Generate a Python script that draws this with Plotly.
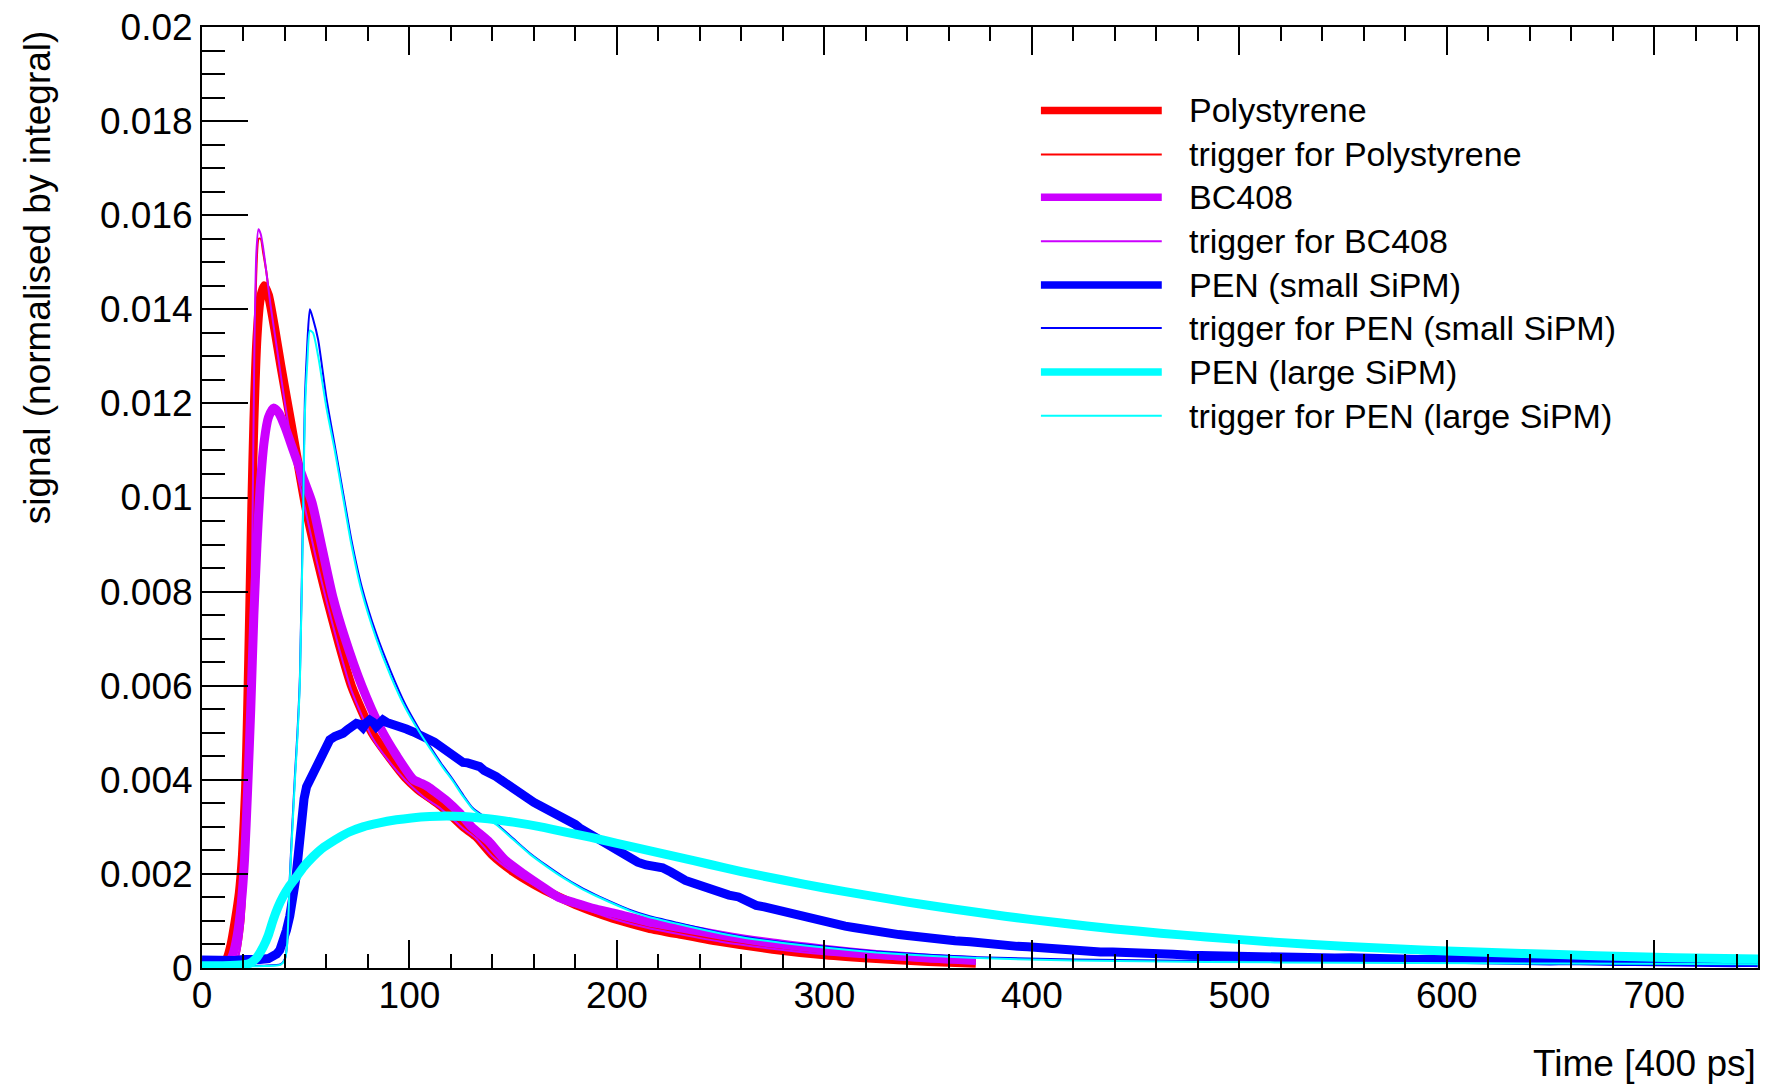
import plotly.graph_objects as go

# ---- pulse shapes, time in 400 ps bins, amplitude normalised by integral ----

ps_t = [0, 5, 9, 12, 14, 16, 18, 19.5, 21, 22, 23, 24, 25, 26.5, 28, 30, 32, 35, 38, 42, 46, 50, 55,
        60, 66, 72, 82, 90, 98, 104, 107, 111, 115, 120, 126, 132, 140, 150, 160, 170, 180, 190, 200,
        215, 230, 250, 275, 300, 325, 350, 373]
ps_y = [0.00002, 0.00002, 0.00005, 0.0002, 0.0005, 0.001, 0.0016, 0.0024, 0.0038, 0.0055, 0.0076,
        0.0098, 0.0116, 0.0134, 0.0142, 0.0145, 0.0143, 0.0136, 0.0128, 0.0118, 0.0108, 0.0098, 0.0088,
        0.0079, 0.0069, 0.006, 0.005, 0.0045, 0.00405, 0.0038, 0.0037, 0.00358, 0.00345, 0.00325, 0.003,
        0.0028, 0.0024, 0.00205, 0.00178, 0.00155, 0.00135, 0.00118, 0.00103, 0.00085, 0.00072, 0.00056,
        0.0004, 0.00028, 0.0002, 0.00014, 0.0001]

trg_ps_t = [0, 12, 17, 20, 21.5, 23, 24.2, 25.2, 26.2, 27.3, 28.3, 29.5, 31, 33, 36, 40, 45, 50, 55,
            60, 66, 72, 82, 90, 98, 104, 107, 111, 115, 120, 126, 132, 140, 150, 160, 170, 180, 190,
            200, 215, 230, 250, 275, 300, 325, 350, 373]
trg_ps_y = [0.0, 0.00002, 0.0002, 0.001, 0.0025, 0.005, 0.0085, 0.0125, 0.0148, 0.0155, 0.0155,
            0.0152, 0.0148, 0.0141, 0.0132, 0.012, 0.0107, 0.0097, 0.0087, 0.0078, 0.0068, 0.0059,
            0.0049, 0.0044, 0.00398, 0.00373, 0.00362, 0.0035, 0.00338, 0.00319, 0.00295, 0.00275,
            0.00236, 0.00202, 0.00175, 0.00152, 0.00133, 0.00116, 0.00101, 0.00084, 0.00071, 0.00055,
            0.0004, 0.00028, 0.0002, 0.00014, 0.0001]

bc_t = [0, 8, 11, 13, 15, 17, 19, 20.5, 22, 23.5, 25, 26.5, 28, 30, 32, 34.5, 37, 40, 44, 48, 53, 58,
        63, 69, 77, 86, 94, 102, 106, 109, 113, 118, 124, 130, 138, 146, 155, 165, 172, 180, 190, 200,
        215, 230, 250, 275, 300, 325, 350, 373]
bc_y = [0.00002, 0.00002, 0.00005, 0.00012, 0.0003, 0.0007, 0.0014, 0.0023, 0.0038, 0.0055, 0.0075,
        0.009, 0.0102, 0.0112, 0.0117, 0.0119, 0.0118, 0.0115, 0.011, 0.0105, 0.0099, 0.0089, 0.0079,
        0.007, 0.006, 0.0051, 0.0045, 0.004, 0.00392, 0.00385, 0.00372, 0.00355, 0.0033, 0.003, 0.0027,
        0.0023, 0.002, 0.0017, 0.0015, 0.00138, 0.00125, 0.00115, 0.00098, 0.00086, 0.0007, 0.00053,
        0.0004, 0.00029, 0.00021, 0.00016]

trg_bc_t = [0, 12, 17, 20, 21.5, 23, 24.2, 25.2, 26.2, 27.2, 28.3, 29.5, 31, 33, 36, 40, 45, 50, 55,
            60, 66, 72, 82, 90, 98, 104, 107, 111, 115, 120, 126, 132, 140, 150, 160, 170, 180, 190,
            200, 215, 230, 250, 275, 300, 325, 350, 373]
trg_bc_y = [0.0, 0.00002, 0.0002, 0.001, 0.0026, 0.0052, 0.0088, 0.013, 0.0152, 0.0157, 0.0156,
            0.0153, 0.0148, 0.0141, 0.0132, 0.012, 0.0107, 0.0097, 0.0087, 0.0078, 0.0068, 0.0059,
            0.0049, 0.0044, 0.00399, 0.00374, 0.00363, 0.00351, 0.00339, 0.0032, 0.00296, 0.00276,
            0.00237, 0.00203, 0.00176, 0.00153, 0.00134, 0.00117, 0.00102, 0.00085, 0.00072, 0.00056,
            0.00041, 0.00029, 0.00021, 0.00015, 0.00011]

pen_s_t = [0, 4, 8, 12, 16, 20, 24, 28, 32, 34.3, 36, 37.5, 39, 40.7, 42.3, 43.9, 45.2, 46.4, 47.3, 48,
           49.2, 50.4, 52, 53.5, 55.2, 57, 59, 61.6, 64, 66, 68, 70, 72, 74.4, 76, 77.6, 79, 80.8, 82.5,
           84, 85.6, 87.2, 89, 91, 93.7, 96, 98.5, 101.7, 104, 106, 109.7, 112, 115, 117.8, 120, 122.5,
           125.8, 128, 131, 133.8, 136, 139, 141.8, 144, 147, 149.8, 152, 155, 157.8, 160, 163, 165.9,
           168, 171, 173.9, 177, 180, 181.9, 185, 188, 190, 193, 196, 198, 201, 204, 206, 210, 214, 218,
           222, 226, 229.2, 233, 237, 241.4, 245, 250, 254, 258.6, 263, 267.1, 271, 275.8, 280, 284.4,
           288, 292.9, 297, 301.5, 306, 310, 314, 318.7, 323, 327, 331, 335.9, 340, 345, 349, 353.1,
           358, 363, 370.3, 375, 380, 387.4, 393, 398, 404.7, 410, 416, 421.8, 427, 433, 439, 445, 450,
           456, 462, 468, 476, 483.6, 490, 498, 506, 514, 522, 530, 538, 546, 554, 562, 570, 578, 586,
           594, 602, 610, 618, 626, 634, 642, 650, 658, 666, 674, 682, 690, 698, 706, 714, 722, 730,
           738, 746, 750]
pen_s_y = [0.00017, 0.00016, 0.00018, 0.00017, 0.00016, 0.00018, 0.00017, 0.00018, 0.0002, 0.00024,
           0.0003, 0.00038, 0.00055, 0.0008, 0.0011, 0.0015, 0.0019, 0.0024, 0.0029, 0.0033, 0.0036,
           0.00385, 0.004, 0.00415, 0.00428, 0.0045, 0.00468, 0.00485, 0.00492, 0.00494, 0.00499,
           0.00506, 0.00512, 0.0052, 0.00518, 0.00511, 0.0052, 0.00527, 0.00522, 0.00513, 0.0052,
           0.00527, 0.00522, 0.0052, 0.00516, 0.00514, 0.00508, 0.00502, 0.00496, 0.0049, 0.00485,
           0.0048, 0.0047, 0.00462, 0.00455, 0.00446, 0.00437, 0.00436, 0.00432, 0.00428, 0.0042,
           0.00415, 0.00407, 0.004, 0.0039, 0.00384, 0.00376, 0.00366, 0.00357, 0.00352, 0.00345,
           0.00339, 0.00334, 0.00328, 0.00321, 0.00312, 0.00305, 0.00298, 0.0029, 0.0028, 0.00275,
           0.00266, 0.00262, 0.00256, 0.00248, 0.0024, 0.00234, 0.00225, 0.00219, 0.00216, 0.00213,
           0.00204, 0.00195, 0.00186, 0.0018, 0.00173, 0.00166, 0.00158, 0.00155, 0.00151, 0.0014,
           0.00133, 0.0013, 0.00125, 0.00118, 0.00114, 0.00109, 0.00103, 0.00101, 0.00096, 0.00092,
           0.00089, 0.00086, 0.00082, 0.0008, 0.00076, 0.00074, 0.00071, 0.00069, 0.00066, 0.00064,
           0.00063, 0.00061, 0.00058, 0.00056, 0.00053, 0.00051, 0.00049, 0.00046, 0.00045, 0.00042,
           0.0004, 0.00037, 0.00035, 0.00036, 0.00034, 0.00034, 0.00032, 0.00033, 0.00031, 0.0003,
           0.00029, 0.00027, 0.00026, 0.00027, 0.00025, 0.00026, 0.00024, 0.00023, 0.00024, 0.00022,
           0.00021, 0.00022, 0.0002, 0.00019, 0.0002, 0.00018, 0.00019, 0.00018, 0.00019, 0.00017,
           0.00017, 0.00016, 0.00016, 0.00015, 0.00016, 0.00014, 0.00015, 0.00014, 0.00014, 0.00013,
           0.00014, 0.00012, 0.00013, 0.00012, 0.00011, 0.00012, 0.00011, 0.0001, 0.00011, 0.0001]

trg_s_t = [0, 30, 38, 40, 41, 42.3, 43.5, 44.8, 46, 47.2, 48.8, 49.6, 50.8, 52, 53.5, 56, 60, 64, 68,
           72, 77, 84, 91, 98, 105, 110, 116, 121, 125.5, 130.5, 136, 142, 150, 158, 166, 174, 182,
           190, 198, 206, 215, 229, 245, 262, 280, 301, 325, 350, 374, 420, 484, 550, 620, 690, 750]
trg_s_y = [0.00005, 0.00005, 0.00008, 0.0002, 0.0005, 0.0019, 0.003, 0.0041, 0.005, 0.0062, 0.01,
           0.0121, 0.0133, 0.014, 0.0138, 0.01335, 0.0121, 0.0111, 0.0101, 0.0091, 0.0081, 0.0071,
           0.0063, 0.0056, 0.00505, 0.0047, 0.0043, 0.004, 0.0037, 0.0034, 0.00322, 0.00306, 0.00275,
           0.00244, 0.00218, 0.00194, 0.00173, 0.00155, 0.00139, 0.00124, 0.00111, 0.00096, 0.0008,
           0.00066, 0.00055, 0.00045, 0.00035, 0.00028, 0.00023, 0.00018, 0.00015, 0.00013, 0.00011,
           0.0001, 0.00009]

trg_l_t = trg_s_t
trg_l_y = [0.00004, 0.00004, 0.00007, 0.00019, 0.00048, 0.00185, 0.0029, 0.004, 0.0049, 0.0061,
           0.0098, 0.0118, 0.0129, 0.01355, 0.0135, 0.013, 0.0119, 0.011, 0.01, 0.009, 0.008, 0.007,
           0.0062, 0.00553, 0.005, 0.00466, 0.00427, 0.00397, 0.00367, 0.00338, 0.0032, 0.00304,
           0.00273, 0.00242, 0.00216, 0.00192, 0.00171, 0.00153, 0.00137, 0.00122, 0.00109, 0.00094,
           0.00078, 0.00064, 0.00053, 0.00043, 0.00033, 0.00026, 0.00021, 0.00016, 0.00013, 0.00011,
           0.0001, 0.00009, 0.00008]

pen_l_t = [0, 10, 20, 23, 26, 29.5, 32, 34.3, 36.5, 39.1, 42, 45.6, 49, 53.6, 57, 61.6, 66, 71, 77.6,
           85, 93.7, 101, 109.7, 118, 125.8, 134, 141.8, 150, 162, 174, 187, 200, 215, 230, 245, 260,
           280, 300, 320, 340, 363, 387, 413, 440, 462, 484, 517, 550, 575, 600, 636, 672, 710, 750]
pen_l_y = [0.00005, 0.00005, 0.00007, 0.0001, 0.0002, 0.00045, 0.0007, 0.00102, 0.00128, 0.00152,
           0.00173, 0.00194, 0.00215, 0.00237, 0.00251, 0.00265, 0.00277, 0.00289, 0.003, 0.00308,
           0.00315, 0.00319, 0.00322, 0.00323, 0.00322, 0.00319, 0.00315, 0.0031, 0.00301, 0.0029,
           0.00278, 0.00265, 0.0025, 0.00235, 0.0022, 0.00205, 0.00187, 0.0017, 0.00155, 0.0014,
           0.00125, 0.0011, 0.00096, 0.00083, 0.00074, 0.00066, 0.00055, 0.00046, 0.00041, 0.00036,
           0.00031, 0.00026, 0.00022, 0.00019]

series_names = ["Polystyrene", "trigger for Polystyrene", "BC408", "trigger for BC408",
                "PEN (small SiPM)", "trigger for PEN (small SiPM)", "PEN (large SiPM)",
                "trigger for PEN (large SiPM)"]
series_colors = ["#ff0000", "#ff0000", "#cc00ff", "#cc00ff", "#0000ff", "#0000ff", "#00ffff", "#00ffff"]
series_widths = [9, 2, 9, 2, 9, 2, 9, 2]
series_data = [(ps_t, ps_y), (trg_ps_t, trg_ps_y), (bc_t, bc_y), (trg_bc_t, trg_bc_y),
               (pen_s_t, pen_s_y), (trg_s_t, trg_s_y), (pen_l_t, pen_l_y), (trg_l_t, trg_l_y)]

y_tick_vals = [0, 0.002, 0.004, 0.006, 0.008, 0.01, 0.012, 0.014, 0.016, 0.018, 0.02]
y_tick_text = ["0", "0.002", "0.004", "0.006", "0.008", "0.01", "0.012", "0.014", "0.016", "0.018", "0.02"]
x_tick_vals = [0, 100, 200, 300, 400, 500, 600, 700]
x_tick_text = ["0", "100", "200", "300", "400", "500", "600", "700"]

FONT = "Liberation Sans, Arial, Helvetica, sans-serif"

fig = go.Figure()
for (t, y), name, col, w in zip(series_data, series_names, series_colors, series_widths):
    noisy = name == "PEN (small SiPM)"
    fig.add_trace(go.Scatter(
        x=t, y=y, name=name, mode="lines",
        line=dict(color=col, width=w, shape="linear" if noisy else "spline",
                  smoothing=0.6 if not noisy else None),
        showlegend=False, hoverinfo="skip"))

# hand-drawn legend in the upper right corner (long line samples, no frame)
leg_rows_px = [110.4, 154.4, 197.2, 241.2, 285.1, 327.9, 371.9, 415.8]
PLOT_L, PLOT_R, PLOT_T, PLOT_B = 202, 1760, 27, 968
def px_x(p):
    return (p - PLOT_L) / (PLOT_R - PLOT_L)
def px_y(p):
    return (PLOT_B - p) / (PLOT_B - PLOT_T)

shapes = []
annotations = []
for name, col, w, row in zip(series_names, series_colors, series_widths, leg_rows_px):
    shapes.append(dict(type="line", xref="paper", yref="paper",
                       x0=px_x(1042), x1=px_x(1163), y0=px_y(row), y1=px_y(row),
                       line=dict(color=col, width=7.5 if w > 2 else 2)))
    annotations.append(dict(text=name, xref="paper", yref="paper", x=px_x(1188), y=px_y(row),
                            xanchor="left", yanchor="middle", showarrow=False,
                            font=dict(family=FONT, size=34, color="black")))

annotations.append(dict(text="Time [400 ps]", xref="paper", yref="paper", x=1.0, y=px_y(1063),
                        xanchor="right", yanchor="middle", showarrow=False,
                        font=dict(family=FONT, size=37, color="black")))
annotations.append(dict(text="signal (normalised by integral)", xref="paper", yref="paper",
                        x=px_x(37), y=px_y(277), xanchor="center", yanchor="middle",
                        textangle=-90, showarrow=False,
                        font=dict(family=FONT, size=37, color="black")))

fig.update_layout(
    width=1767, height=1084,
    margin=dict(l=PLOT_L, r=1767 - PLOT_R, t=PLOT_T, b=1084 - PLOT_B),
    paper_bgcolor="white", plot_bgcolor="white",
    font=dict(family=FONT, size=37, color="black"),
    shapes=shapes, annotations=annotations,
    xaxis=dict(range=[0, 750], tickvals=x_tick_vals, ticktext=x_tick_text,
               ticks="inside", ticklen=28, tickwidth=2, tickcolor="black", ticklabelstandoff=-6,
               minor=dict(dtick=20, tick0=0, ticks="inside", ticklen=14, tickwidth=2, tickcolor="black"),
               showline=True, linewidth=2, linecolor="black", mirror="ticks",
               showgrid=False, zeroline=False, tickfont=dict(size=37)),
    yaxis=dict(range=[0, 0.02], tickvals=y_tick_vals, ticktext=y_tick_text,
               ticks="inside", ticklen=46, tickwidth=2, tickcolor="black",
               minor=dict(dtick=0.0005, tick0=0, ticks="inside", ticklen=23, tickwidth=2, tickcolor="black"),
               showline=True, linewidth=2, linecolor="black", mirror=True,
               showgrid=False, zeroline=False, tickfont=dict(size=37)),
    yaxis2=dict(range=[0, 0.02], overlaying="y", side="right", anchor="x",
                dtick=0.0005, tick0=0, ticks="inside", ticklen=23, tickwidth=2, tickcolor="black",
                showticklabels=False, showline=False, showgrid=False, zeroline=False),
)

fig.write_html("out.html")
